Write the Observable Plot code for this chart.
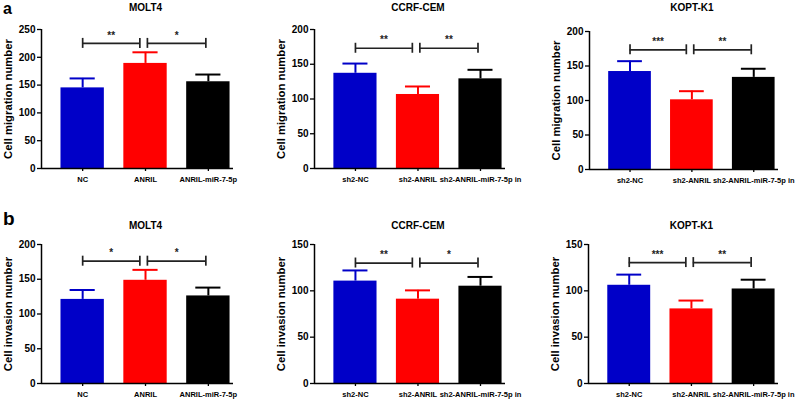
<!DOCTYPE html>
<html><head><meta charset="utf-8">
<script src="https://cdn.jsdelivr.net/npm/d3@7"></script>
<script src="https://cdn.jsdelivr.net/npm/@observablehq/plot@0.6"></script>
<style>
body{margin:0;background:#fff;}
#wrap{position:relative;width:797px;height:402px;overflow:hidden;font-family:"Liberation Sans",Arial,sans-serif;background:#fff;}
.panel{position:absolute;}
.tag{position:absolute;font-weight:bold;line-height:normal;color:#000;}
</style></head><body>
<div id="wrap"></div>
<script>
// ---- data ----
const ovCats = ["NC", "ANRIL", "ANRIL-miR-7-5p"];
const shCats = ["sh2-NC", "sh2-ANRIL", "sh2-ANRIL-miR-7-5p in"];
const barColors = ["#0000c8", "#ff0000", "#000000"];

const molt4Mig = [145, 189, 156];       const molt4MigErr = [17, 20, 13];
const ccrfMig = [137, 106.5, 129];      const ccrfMigErr = [14, 11.5, 13];
const koptMig = [142, 101, 133.5];      const koptMigErr = [15, 12.5, 12.5];
const molt4Inv = [121, 148.5, 126];     const molt4InvErr = [13.5, 15, 12];
const ccrfInv = [110.5, 91, 105];       const ccrfInvErr = [11.5, 9.5, 10];
const koptInv = [106, 80.5, 102];       const koptInvErr = [11.5, 9, 10];

const ticks250 = [0, 50, 100, 150, 200, 250];
const ticks200 = [0, 50, 100, 150, 200];
const ticks150 = [0, 50, 100, 150];

const sigLevel = [225, 173, 173.5, 176, 130, 130.5];
const sigStars = [["**", "*"], ["**", "**"], ["***", "**"], ["*", "*"], ["**", "*"], ["***", "**"]];

const titles = ["MOLT4", "CCRF-CEM", "KOPT-K1", "MOLT4", "CCRF-CEM", "KOPT-K1"];
const yLabels = ["Cell migration number", "Cell migration number", "Cell migration number",
                 "Cell invasion number", "Cell invasion number", "Cell invasion number"];
const panelTags = ["a", "b"];

// ---- layout ----
const panels = [
  {cats: ovCats, v: molt4Mig, e: molt4MigErr, ticks: ticks250, left: 0,   top: 0,   w: 265, h: 200, ml: 41, mr: 32, mt: 29, mb: 32, tdy: -22},
  {cats: shCats, v: ccrfMig,  e: ccrfMigErr,  ticks: ticks200, left: 265, top: 0,   w: 265, h: 200, ml: 49, mr: 25, mt: 29, mb: 32, tdy: -22},
  {cats: shCats, v: koptMig,  e: koptMigErr,  ticks: ticks200, left: 530, top: 0,   w: 267, h: 200, ml: 59, mr: 19, mt: 31, mb: 31, tdy: -24},
  {cats: ovCats, v: molt4Inv, e: molt4InvErr, ticks: ticks200, left: 0,   top: 200, w: 265, h: 202, ml: 41, mr: 32, mt: 44, mb: 19, tdy: -19},
  {cats: shCats, v: ccrfInv,  e: ccrfInvErr,  ticks: ticks150, left: 265, top: 200, w: 265, h: 202, ml: 49, mr: 25, mt: 44, mb: 19, tdy: -19},
  {cats: shCats, v: koptInv,  e: koptInvErr,  ticks: ticks150, left: 530, top: 200, w: 267, h: 202, ml: 58, mr: 19, mt: 44, mb: 19, tdy: -19}
];

const wrap = document.getElementById("wrap");
const xDom = [-0.655, 2.40];
const half = 0.345, capHalf = 0.2;

panels.forEach((p, k) => {
  const rows = p.cats.map((c, i) => ({i, cat: c, v: p.v[i], e: p.e[i], color: barColors[i]}));
  const ymax = p.ticks[p.ticks.length - 1];
  const brackets = [
    {x1: 0, x2: 0.91, s: sigStars[k][0]},
    {x1: 1.03, x2: 1.96, s: sigStars[k][1]}
  ];
  const ends = brackets.flatMap(b => [b.x1, b.x2]);
  const chart = Plot.plot({
    width: p.w, height: p.h,
    marginLeft: p.ml, marginRight: p.mr, marginTop: p.mt, marginBottom: p.mb,
    style: {fontFamily: "'Liberation Sans', Arial, sans-serif", fontWeight: "bold", fontSize: "10px", color: "#000", background: "transparent"},
    x: {type: "linear", domain: xDom, axis: null},
    y: {domain: [0, ymax], axis: null},
    marks: [
      Plot.rectY(rows, {x1: d => d.i - half, x2: d => d.i + half, y1: 0, y2: "v", fill: d => d.color}),
      Plot.ruleX(rows, {x: "i", y1: "v", y2: d => d.v + d.e, stroke: d => d.color, strokeWidth: 2}),
      Plot.ruleY(rows, {y: d => d.v + d.e, x1: d => d.i - capHalf, x2: d => d.i + capHalf, stroke: d => d.color, strokeWidth: 2}),
      Plot.ruleY(brackets, {y: () => sigLevel[k], x1: "x1", x2: "x2", stroke: "#222", strokeWidth: 1.7}),
      Plot.ruleX(ends, {x: d => d, y1: () => sigLevel[k], y2: () => sigLevel[k], insetTop: -5, insetBottom: -5, stroke: "#222", strokeWidth: 1.7}),
      Plot.text(brackets, {x: d => (d.x1 + d.x2) / 2, y: () => sigLevel[k], text: "s", dy: -8, fontSize: 10, fontWeight: "bold", fill: "#222"}),
      Plot.axisY({ticks: p.ticks, tickSize: 4, tickPadding: 2, fontSize: 10, fontWeight: "bold", strokeWidth: 1.3, label: null}),
      Plot.axisX({ticks: [0, 1, 2], tickFormat: i => p.cats[i], tickSize: 3, tickPadding: 5, fontSize: 7.5, fontWeight: "bold", strokeWidth: 1.3, label: null}),
      Plot.ruleY([0], {stroke: "#000", strokeWidth: 1.5}),
      Plot.ruleX([xDom[0]], {y1: 0, y2: ymax, stroke: "#000", strokeWidth: 1.5}),
      Plot.text([titles[k]], {x: 1, frameAnchor: "top", dy: p.tdy, fontSize: 10, fontWeight: "bold", textAnchor: "middle", lineAnchor: "middle"}),
      Plot.text([yLabels[k]], {frameAnchor: "left", rotate: -90, dx: -33, fontSize: 11.3, fontWeight: "bold", textAnchor: "middle", lineAnchor: "middle"})
    ]
  });
  const div = document.createElement("div");
  div.className = "panel";
  div.style.left = p.left + "px";
  div.style.top = p.top + "px";
  div.appendChild(chart);
  wrap.appendChild(div);
});

const tagPos = [{left: 3, top: 0, size: 16}, {left: 3, top: 208, size: 19}];
panelTags.forEach((t, j) => {
  const s = document.createElement("div");
  s.className = "tag";
  s.textContent = t;
  s.style.left = tagPos[j].left + "px";
  s.style.top = tagPos[j].top + "px";
  s.style.fontSize = tagPos[j].size + "px";
  wrap.appendChild(s);
});
</script>
</body></html>
